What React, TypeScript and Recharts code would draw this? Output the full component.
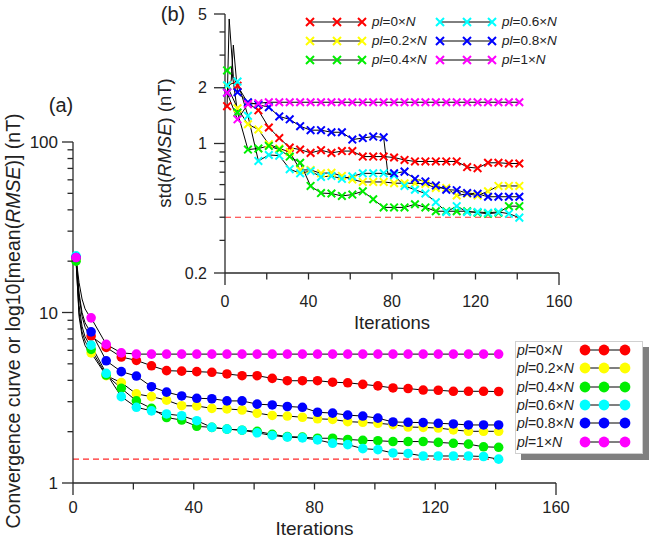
import { LineChart, Line, XAxis, YAxis, ReferenceLine } from 'recharts'

const FONT = '"Liberation Sans", Arial, sans-serif'
const AXIS = '#2a2a2a'

const SERIES = [
  { key: 'p0', label: '0', color: '#ff0000' },
  { key: 'p2', label: '0.2', color: '#ffff00' },
  { key: 'p4', label: '0.4', color: '#00ee00' },
  { key: 'p6', label: '0.6', color: '#00ffff' },
  { key: 'p8', label: '0.8', color: '#0000ff' },
  { key: 'p10', label: '1', color: '#ff00ff' },
]

// (a) mean RMSE, markers every 5 iterations
const mainIter = [1, 2, 3, 4, 5, 6, 11, 16, 21, 26, 31, 36, 41, 46, 51, 56, 61, 66, 71, 76, 81, 86, 91, 96, 101, 106, 111, 116, 121, 126, 131, 136, 141]
const mainP0 = [21, 12.5, 9.5, 8.2, 7.6, 7.27, 6.24, 5.48, 5.24, 4.87, 4.56, 4.53, 4.5, 4.46, 4.36, 4.26, 4.26, 4.11, 3.98, 3.98, 3.98, 3.9, 3.87, 3.79, 3.71, 3.61, 3.58, 3.51, 3.5, 3.45, 3.45, 3.45, 3.44]
const mainP2 = [20.5, 9.5, 7.3, 6.4, 6.0, 5.8, 4.26, 3.88, 3.33, 3.21, 3.06, 2.84, 2.83, 2.74, 2.72, 2.68, 2.57, 2.49, 2.47, 2.43, 2.38, 2.36, 2.29, 2.27, 2.24, 2.2, 2.13, 2.12, 2.1, 2.05, 2.01, 2.01, 2.01]
const mainP4 = [20, 10, 7.7, 6.8, 6.3, 6.08, 4.3, 3.59, 3.03, 2.74, 2.42, 2.34, 2.15, 2.12, 2.07, 2.04, 2.01, 1.93, 1.87, 1.86, 1.83, 1.83, 1.8, 1.78, 1.77, 1.75, 1.75, 1.75, 1.73, 1.71, 1.69, 1.63, 1.62]
const mainP6 = [21.5, 11, 8.3, 7.2, 6.7, 6.44, 4.4, 3.21, 2.78, 2.65, 2.54, 2.48, 2.32, 2.12, 2.07, 2.04, 1.97, 1.9, 1.86, 1.84, 1.79, 1.71, 1.68, 1.59, 1.57, 1.5, 1.49, 1.44, 1.44, 1.44, 1.44, 1.43, 1.38]
const mainP8 = [21, 13, 10, 8.7, 8.1, 7.7, 5.21, 4.5, 4.24, 3.67, 3.41, 3.24, 3.14, 3.12, 3.03, 3.03, 2.9, 2.87, 2.81, 2.78, 2.6, 2.57, 2.5, 2.47, 2.4, 2.28, 2.27, 2.26, 2.24, 2.22, 2.19, 2.19, 2.19]
const mainP10 = [21, 15, 12, 10.5, 9.8, 9.3, 6.5, 5.8, 5.7, 5.7, 5.7, 5.7, 5.7, 5.7, 5.7, 5.7, 5.7, 5.7, 5.7, 5.7, 5.7, 5.7, 5.7, 5.7, 5.7, 5.7, 5.7, 5.7, 5.7, 5.7, 5.7, 5.7, 5.7]
const mainTarget = 1.38

// (b) std RMSE
const insetIter = [1, 2, 3, 4, 6, 11, 16, 21, 26, 31, 36, 41, 46, 51, 56, 61, 66, 71, 76, 78, 81, 86, 91, 96, 101, 106, 111, 116, 121, 126, 131, 136, 141]
const insetP0 = [1.59, 4.7, null, 2.3, 2.05, 1.65, 1.51, 1.22, 1.07, 0.95, 0.927, 0.89, 0.92, 0.89, 0.91, 0.91, 0.85, 0.85, 0.85, null, 0.84, 0.815, 0.8, 0.8, 0.8, 0.8, 0.8, 0.746, 0.736, 0.787, 0.787, 0.78, 0.78]
const insetP2 = [2.05, null, null, null, 1.55, 1.27, 1.19, 0.99, 0.94, 0.9, 0.72, 0.72, 0.69, 0.695, 0.668, 0.64, 0.62, 0.62, 0.62, null, 0.611, 0.61, 0.61, 0.605, 0.576, 0.576, 0.524, 0.535, 0.524, 0.552, 0.59, 0.59, 0.59]
const insetP4 = [2.48, null, 2.6, null, 1.47, 0.927, 0.94, 0.97, 0.927, 0.85, 0.787, 0.59, 0.54, 0.537, 0.521, 0.53, 0.552, 0.5, 0.452, null, 0.452, 0.452, 0.47, 0.452, 0.431, 0.431, 0.431, 0.431, 0.423, 0.418, 0.423, 0.459, 0.459]
const insetP6 = [2.06, null, null, null, 2.16, 1.41, 0.805, 0.867, 0.86, 0.727, 0.69, 0.71, 0.66, 0.668, 0.645, 0.665, 0.69, 0.69, 0.69, null, 0.673, 0.59, 0.563, 0.537, 0.482, 0.427, 0.459, 0.427, 0.427, 0.423, 0.427, 0.418, 0.398]
const insetP8 = [1.88, null, 2.2, 3.4, 1.89, 1.67, 1.62, 1.57, 1.4, 1.35, 1.24, 1.18, 1.18, 1.15, 1.15, 1.05, 1.07, 1.09, 1.08, 0.69, 0.69, 0.705, 0.644, 0.624, 0.594, 0.563, 0.56, 0.54, 0.535, 0.516, 0.516, 0.516, 0.516]
const insetP10 = [1.88, null, null, null, 1.35, 1.63, 1.65, 1.67, 1.67, 1.67, 1.67, 1.67, 1.67, 1.67, 1.67, 1.67, 1.67, 1.67, 1.67, null, 1.67, 1.67, 1.67, 1.67, 1.67, 1.67, 1.67, 1.67, 1.67, 1.67, 1.67, 1.67, 1.67]
const insetTarget = 0.4

const xTicks = [0, 20, 40, 60, 80, 100, 120, 140, 160]
const xLabels = [0, 40, 80, 120, 160]
const mainYTicks = [1, 2, 3, 4, 5, 6, 7, 8, 9, 10, 20, 30, 40, 50, 60, 70, 80, 90, 100]
const mainYLabels = [1, 10, 100]
const insetYTicks = [0.2, 0.3, 0.4, 0.5, 0.6, 0.7, 0.8, 0.9, 1, 2, 3, 4, 5]
const insetYLabels = [0.2, 0.5, 1, 2, 5]

const mainData = mainIter.map((it, i) => ({
  it, p0: mainP0[i], p2: mainP2[i], p4: mainP4[i], p6: mainP6[i], p8: mainP8[i], p10: mainP10[i],
}))
const insetData = insetIter.map((it, i) => ({
  it, p0: insetP0[i], p2: insetP2[i], p4: insetP4[i], p6: insetP6[i], p8: insetP8[i], p10: insetP10[i],
}))

const isMarker = (it: number) => (it - 1) % 5 === 0

const circleDot = (color: string) => (props: any) => {
  const { cx, cy, payload, index } = props
  if (cx == null || cy == null || payload?.[props.dataKey] == null || !isMarker(payload.it)) return <g key={index} />
  return <circle key={index} cx={cx} cy={cy} r={4.8} fill={color} />
}

const crossDot = (color: string) => (props: any) => {
  const { cx, cy, payload, index } = props
  if (cx == null || cy == null || payload?.[props.dataKey] == null || !isMarker(payload.it)) return <g key={index} />
  const s = 3.8
  return (
    <path key={index} d={`M${cx - s},${cy - s}L${cx + s},${cy + s}M${cx - s},${cy + s}L${cx + s},${cy - s}`} stroke={color} strokeWidth={2} />
  )
}

const makeXTick = (fontSize: number, labelGap: number) => (props: any) => {
  const { x, y, payload } = props
  const v = payload.value
  const len = v === 0 || v === 160 ? 12 : 6.5
  return (
    <g>
      <line x1={x} x2={x} y1={y} y2={y + len} stroke={AXIS} strokeWidth={1.3} />
      {xLabels.includes(v) && (
        <text x={x} y={y + labelGap} dy="0.36em" textAnchor="middle" fontSize={fontSize} fontFamily={FONT} fill="#222">{v}</text>
      )}
    </g>
  )
}

const makeYTick = (labels: number[], fontSize: number, gap: number) => (props: any) => {
  const { x, y, payload } = props
  const v = payload.value
  const major = labels.includes(v)
  const len = major ? 11 : 5.5
  return (
    <g>
      <line x1={x - len} x2={x} y1={y} y2={y} stroke={AXIS} strokeWidth={1.3} />
      {major && (
        <text x={x - gap} y={y} dy="0.36em" textAnchor="end" fontSize={fontSize} fontFamily={FONT} fill="#222">{v}</text>
      )}
    </g>
  )
}

function PlLabel({ v }: { v: string }) {
  return (
    <span>
      <i>pl</i>={v}×<i>N</i>
    </span>
  )
}

function MainLegend() {
  return (
    <div style={{ position: 'absolute', left: 515, top: 341, width: 126, height: 111, background: '#fff', border: '1px solid #d0d0d0', boxShadow: '6px 6px 0 #808080', fontFamily: FONT, fontSize: 14, color: '#222' }}>
      {SERIES.map((s, i) => (
        <div key={s.key} style={{ position: 'absolute', left: 1, top: 8 + i * 18.3 - 9, height: 18, lineHeight: '18px', width: 124 }}>
          <PlLabel v={s.label} />
          <svg width={60} height={18} style={{ position: 'absolute', left: 62, top: 0 }}>
            <line x1={6} x2={46} y1={9} y2={9} stroke="#000" strokeWidth={1} />
            {[6, 25, 46].map((cx) => <circle key={cx} cx={cx} cy={9} r={5.4} fill={s.color} />)}
          </svg>
        </div>
      ))}
    </div>
  )
}

function InsetLegend() {
  const cols = [SERIES.slice(0, 3), SERIES.slice(3)]
  return (
    <div style={{ position: 'absolute', left: 0, top: 0, fontFamily: FONT, fontSize: 13.5, color: '#222' }}>
      {cols.map((col, c) =>
        col.map((s, r) => {
          const left = c === 0 ? 304 : 434
          const top = 22 + r * 19 - 9
          return (
            <div key={s.key} style={{ position: 'absolute', left, top, height: 18, lineHeight: '18px', whiteSpace: 'nowrap' }}>
              <svg width={66} height={18} style={{ position: 'absolute', left: 0, top: 0 }}>
                <line x1={6} x2={58} y1={9} y2={9} stroke="#000" strokeWidth={1} />
                {[6, 33, 58].map((cx) => (
                  <path key={cx} d={`M${cx - 4},5L${cx + 4},13M${cx - 4},13L${cx + 4},5`} stroke={s.color} strokeWidth={2} />
                ))}
              </svg>
              <span style={{ position: 'absolute', left: 68, top: 0 }}>
                <PlLabel v={s.label} />
              </span>
            </div>
          )
        })
      )}
    </div>
  )
}

export default function App() {
  return (
    <div style={{ position: 'absolute', left: 0, top: 0, width: 649, height: 540, background: '#fff', overflow: 'hidden' }}>
      <div style={{ position: 'absolute', left: 0, top: 0 }}>
        <LineChart width={649} height={540} data={mainData} margin={{ top: 142, right: 93, bottom: 0, left: 0 }}>
          <XAxis dataKey="it" type="number" domain={[0, 160]} ticks={xTicks} interval={0} height={57}
            axisLine={{ stroke: AXIS, strokeWidth: 1.3 }} tickLine={false} tickSize={0} tickMargin={0} tick={makeXTick(16.5, 24)}
            label={{ value: 'Iterations', position: 'insideBottom', offset: 5, fontSize: 19, fill: '#222', fontFamily: FONT }} />
          <YAxis type="number" scale="log" domain={[1, 100]} allowDataOverflow ticks={mainYTicks} interval={0} width={73}
            axisLine={{ stroke: AXIS, strokeWidth: 1.3 }} tickLine={false} tickSize={0} tickMargin={0} tick={makeYTick(mainYLabels, 17, 15)} />
          <ReferenceLine segment={[{ x: 0, y: mainTarget }, { x: 141, y: mainTarget }]} stroke="#ff2a2a" strokeWidth={1.2} strokeDasharray="6 4" />
          {SERIES.map((s) => (
            <Line key={s.key} dataKey={s.key} type="linear" stroke="#000" strokeWidth={1} dot={circleDot(s.color)} activeDot={false} isAnimationActive={false} />
          ))}
        </LineChart>
      </div>
      <div style={{ position: 'absolute', left: 0, top: 0 }}>
        <LineChart width={649} height={340} data={insetData} margin={{ top: 14, right: 90, bottom: 7, left: 0 }}>
          <XAxis dataKey="it" type="number" domain={[0, 160]} ticks={xTicks} interval={0} height={60}
            axisLine={{ stroke: AXIS, strokeWidth: 1.3 }} tickLine={false} tickSize={0} tickMargin={0} tick={makeXTick(16, 28)}
            label={{ value: 'Iterations', position: 'insideBottom', offset: 4, fontSize: 18.5, fill: '#222', fontFamily: FONT }} />
          <YAxis type="number" scale="log" domain={[0.2, 5]} allowDataOverflow ticks={insetYTicks} interval={0} width={225}
            axisLine={{ stroke: AXIS, strokeWidth: 1.3 }} tickLine={false} tickSize={0} tickMargin={0} tick={makeYTick(insetYLabels, 16, 18)} />
          <ReferenceLine segment={[{ x: 0, y: insetTarget }, { x: 141, y: insetTarget }]} stroke="#ff2a2a" strokeWidth={1.2} strokeDasharray="6 4" />
          {SERIES.map((s) => (
            <Line key={s.key} dataKey={s.key} type="linear" stroke="#000" strokeWidth={1} connectNulls dot={crossDot(s.color)} activeDot={false} isAnimationActive={false} />
          ))}
        </LineChart>
      </div>
      <svg width={649} height={540} style={{ position: 'absolute', left: 0, top: 0, pointerEvents: 'none' }} fontFamily={FONT} fill="#222">
        <text x={61} y={112} textAnchor="middle" fontSize={20}>(a)</text>
        <text x={173} y={21} textAnchor="middle" fontSize={20}>(b)</text>
        <text transform="translate(13,321) rotate(-90)" textAnchor="middle" dy="0.35em" fontSize={19.5}>
          Convergence curve or log10[mean(<tspan fontStyle="italic">RMSE</tspan>)] (nT)
        </text>
        <text transform="translate(165,143) rotate(-90)" textAnchor="middle" dy="0.35em" fontSize={18.5}>
          std(<tspan fontStyle="italic">RMSE</tspan>) (nT)
        </text>
      </svg>
      <InsetLegend />
      <MainLegend />
    </div>
  )
}
